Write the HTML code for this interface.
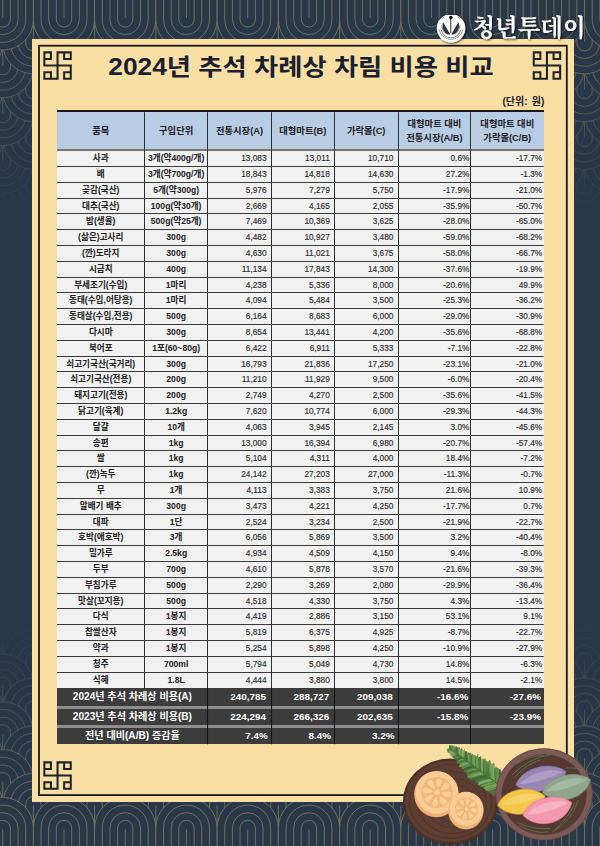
<!DOCTYPE html>
<html lang="ko"><head><meta charset="utf-8"><title>2024년 추석 차례상 차림 비용 비교</title>
<style>
html,body{margin:0;padding:0}
body{width:600px;height:846px;position:relative;overflow:hidden;background:#293849;font-family:"Liberation Sans","Noto Sans CJK KR",sans-serif}
svg{display:block}
#bg,#frame,#grid,#title,#logo,#food{position:absolute;left:0;top:0}
.pat{fill:none;stroke:#777059;stroke-width:.95}
#panel{position:absolute;left:31.7px;top:38.5px;width:542.3px;height:763.2px;background:#fadfa5}
.kt{font-size:0;line-height:0;margin:0}
#unit{position:absolute;right:55.6px;top:94px;height:15px;line-height:15px;font-size:10px;font-weight:700;color:#222;white-space:nowrap;word-spacing:1.5px}
#tbl{position:absolute;left:0;top:0;width:600px;height:846px;color:#222}
.topline{position:absolute;left:57.0px;width:486.7px;top:110.4px;height:1.8px;background:#17191c}
.hc{position:absolute;top:112.2px;height:36.6px;background:#b8cce4;text-align:center;font-weight:700;font-size:9.3px;white-space:nowrap;box-sizing:border-box;color:#1d2126}
.h1{line-height:36.6px;padding-top:.5px}
.h2{line-height:14.4px;padding-top:4.4px}
.hsep{position:absolute;left:57.0px;width:486.7px;top:148.8px;height:2.8px;background:#777}
.r{position:absolute;left:57.0px;width:486.7px;height:15.8px;line-height:15.8px;background:#f1f1f1;white-space:nowrap}
.sbg{position:absolute;left:57.0px;width:486.7px;background:#8e8e8e}
.s{position:absolute;left:57.0px;width:486.7px;background:#3c3c3c;color:#fff;white-space:nowrap}
.c{position:absolute;top:0;height:100%;display:block}
.r .c{top:.7px}
.b{text-align:center;font-weight:700;font-size:8.6px}
.n{text-align:right;font-size:8.3px;color:#2e2e2e;-webkit-text-stroke:.15px #2e2e2e}
.sb{text-align:center;font-weight:700;font-size:10.1px}
.sn{text-align:right;font-weight:700;font-size:9.9px}
</style></head>
<body>
<svg id="bg" width="600" height="846" viewBox="0 0 600 846"><defs><g id="su"><path d="M-30.62,-62 V0 A30.62,30.62 0 0 0 30.62,0 V-62Z" fill="#293849" stroke="none"/><path d="M-30.62,-62 V0 A30.62,30.62 0 0 0 30.62,0 V-62 M-22.96,-62 V0 A22.96,22.96 0 0 0 22.96,0 V-62 M-15.31,-62 V0 A15.31,15.31 0 0 0 15.31,0 V-62 M-7.66,-62 V0 A7.66,7.66 0 0 0 7.66,0 V-62 M0,-62 V-1.5"/></g><g id="sd"><path d="M-30.62,62 V0 A30.62,30.62 0 0 1 30.62,0 V62Z" fill="#293849" stroke="none"/><path d="M-30.62,62 V0 A30.62,30.62 0 0 1 30.62,0 V62 M-22.96,62 V0 A22.96,22.96 0 0 1 22.96,0 V62 M-15.31,62 V0 A15.31,15.31 0 0 1 15.31,0 V62 M-7.66,62 V0 A7.66,7.66 0 0 1 7.66,0 V62 M0,62 V1.5"/></g><linearGradient id="ft" x1="0" y1="0" x2="0" y2="1"><stop offset="0" stop-color="#fff"/><stop offset="0.14" stop-color="#fff"/><stop offset="1" stop-color="#000"/></linearGradient><linearGradient id="fb" x1="0" y1="1" x2="0" y2="0"><stop offset="0" stop-color="#fff"/><stop offset="0.16" stop-color="#fff"/><stop offset="1" stop-color="#000"/></linearGradient><mask id="mt" maskUnits="userSpaceOnUse" x="0" y="0" width="600" height="230"><rect width="600" height="215" fill="url(#ft)"/></mask><mask id="mb" maskUnits="userSpaceOnUse" x="0" y="620" width="600" height="226"><rect y="622" width="600" height="224" fill="url(#fb)"/></mask></defs><g class="pat" mask="url(#mt)"><use href="#su" x="-27.86" y="234.5"/><use href="#su" x="33.38" y="234.5"/><use href="#su" x="584.54" y="234.5"/><use href="#su" x="2.76" y="210.6"/><use href="#su" x="553.92" y="210.6"/><use href="#su" x="615.16" y="210.6"/><use href="#su" x="-27.86" y="186.7"/><use href="#su" x="33.38" y="186.7"/><use href="#su" x="584.54" y="186.7"/><use href="#su" x="2.76" y="162.8"/><use href="#su" x="553.92" y="162.8"/><use href="#su" x="615.16" y="162.8"/><use href="#su" x="-27.86" y="138.9"/><use href="#su" x="33.38" y="138.9"/><use href="#su" x="584.54" y="138.9"/><use href="#su" x="2.76" y="115"/><use href="#su" x="553.92" y="115"/><use href="#su" x="615.16" y="115"/><use href="#su" x="-27.86" y="91.1"/><use href="#su" x="33.38" y="91.1"/><use href="#su" x="94.62" y="91.1"/><use href="#su" x="155.86" y="91.1"/><use href="#su" x="217.1" y="91.1"/><use href="#su" x="278.34" y="91.1"/><use href="#su" x="339.58" y="91.1"/><use href="#su" x="400.82" y="91.1"/><use href="#su" x="462.06" y="91.1"/><use href="#su" x="523.3" y="91.1"/><use href="#su" x="584.54" y="91.1"/><use href="#su" x="2.76" y="67.2"/><use href="#su" x="64" y="67.2"/><use href="#su" x="125.24" y="67.2"/><use href="#su" x="186.48" y="67.2"/><use href="#su" x="247.72" y="67.2"/><use href="#su" x="308.96" y="67.2"/><use href="#su" x="370.2" y="67.2"/><use href="#su" x="431.44" y="67.2"/><use href="#su" x="492.68" y="67.2"/><use href="#su" x="553.92" y="67.2"/><use href="#su" x="615.16" y="67.2"/><use href="#su" x="-27.86" y="43.3"/><use href="#su" x="33.38" y="43.3"/><use href="#su" x="94.62" y="43.3"/><use href="#su" x="155.86" y="43.3"/><use href="#su" x="217.1" y="43.3"/><use href="#su" x="278.34" y="43.3"/><use href="#su" x="339.58" y="43.3"/><use href="#su" x="400.82" y="43.3"/><use href="#su" x="462.06" y="43.3"/><use href="#su" x="523.3" y="43.3"/><use href="#su" x="584.54" y="43.3"/><use href="#su" x="2.76" y="19.4"/><use href="#su" x="64" y="19.4"/><use href="#su" x="125.24" y="19.4"/><use href="#su" x="186.48" y="19.4"/><use href="#su" x="247.72" y="19.4"/><use href="#su" x="308.96" y="19.4"/><use href="#su" x="370.2" y="19.4"/><use href="#su" x="431.44" y="19.4"/><use href="#su" x="492.68" y="19.4"/><use href="#su" x="553.92" y="19.4"/><use href="#su" x="615.16" y="19.4"/></g><g class="pat" mask="url(#mb)"><use href="#sd" x="-27.86" y="612.9"/><use href="#sd" x="33.38" y="612.9"/><use href="#sd" x="584.54" y="612.9"/><use href="#sd" x="2.76" y="636.8"/><use href="#sd" x="553.92" y="636.8"/><use href="#sd" x="615.16" y="636.8"/><use href="#sd" x="-27.86" y="660.7"/><use href="#sd" x="33.38" y="660.7"/><use href="#sd" x="584.54" y="660.7"/><use href="#sd" x="2.76" y="684.6"/><use href="#sd" x="553.92" y="684.6"/><use href="#sd" x="615.16" y="684.6"/><use href="#sd" x="-27.86" y="708.5"/><use href="#sd" x="33.38" y="708.5"/><use href="#sd" x="584.54" y="708.5"/><use href="#sd" x="2.76" y="732.4"/><use href="#sd" x="553.92" y="732.4"/><use href="#sd" x="615.16" y="732.4"/><use href="#sd" x="-27.86" y="756.3"/><use href="#sd" x="33.38" y="756.3"/><use href="#sd" x="94.62" y="756.3"/><use href="#sd" x="155.86" y="756.3"/><use href="#sd" x="217.1" y="756.3"/><use href="#sd" x="278.34" y="756.3"/><use href="#sd" x="339.58" y="756.3"/><use href="#sd" x="400.82" y="756.3"/><use href="#sd" x="462.06" y="756.3"/><use href="#sd" x="523.3" y="756.3"/><use href="#sd" x="584.54" y="756.3"/><use href="#sd" x="2.76" y="780.2"/><use href="#sd" x="64" y="780.2"/><use href="#sd" x="125.24" y="780.2"/><use href="#sd" x="186.48" y="780.2"/><use href="#sd" x="247.72" y="780.2"/><use href="#sd" x="308.96" y="780.2"/><use href="#sd" x="370.2" y="780.2"/><use href="#sd" x="431.44" y="780.2"/><use href="#sd" x="492.68" y="780.2"/><use href="#sd" x="553.92" y="780.2"/><use href="#sd" x="615.16" y="780.2"/><use href="#sd" x="-27.86" y="804.1"/><use href="#sd" x="33.38" y="804.1"/><use href="#sd" x="94.62" y="804.1"/><use href="#sd" x="155.86" y="804.1"/><use href="#sd" x="217.1" y="804.1"/><use href="#sd" x="278.34" y="804.1"/><use href="#sd" x="339.58" y="804.1"/><use href="#sd" x="400.82" y="804.1"/><use href="#sd" x="462.06" y="804.1"/><use href="#sd" x="523.3" y="804.1"/><use href="#sd" x="584.54" y="804.1"/><use href="#sd" x="2.76" y="828"/><use href="#sd" x="64" y="828"/><use href="#sd" x="125.24" y="828"/><use href="#sd" x="186.48" y="828"/><use href="#sd" x="247.72" y="828"/><use href="#sd" x="308.96" y="828"/><use href="#sd" x="370.2" y="828"/><use href="#sd" x="431.44" y="828"/><use href="#sd" x="492.68" y="828"/><use href="#sd" x="553.92" y="828"/><use href="#sd" x="615.16" y="828"/></g></svg>
<div id="panel"></div>
<svg id="frame" width="600" height="846" viewBox="0 0 600 846" fill="none" stroke="#23282d"><rect x="39" y="45.7" width="527.8" height="749.4" stroke-width="1.8" stroke="#16191c"/><g stroke-width="2.05" stroke-linecap="square" stroke="#1e2328"><path transform="translate(43.4,51.4)" d="M14.15,14.15V0.95H27.35V7.55H20.75V0.95 M14.15,14.15H27.35V27.35H20.75V20.75H27.35 M14.15,14.15V27.35H0.95V20.75H7.55V27.35 M14.15,14.15H0.95V0.95H7.55V7.55H0.95"/><path transform="translate(532.8,51.4)" d="M14.15,14.15V0.95H27.35V7.55H20.75V0.95 M14.15,14.15H27.35V27.35H20.75V20.75H27.35 M14.15,14.15V27.35H0.95V20.75H7.55V27.35 M14.15,14.15H0.95V0.95H7.55V7.55H0.95"/><path transform="translate(43.4,761.4)" d="M14.15,14.15V0.95H27.35V7.55H20.75V0.95 M14.15,14.15H27.35V27.35H20.75V20.75H27.35 M14.15,14.15V27.35H0.95V20.75H7.55V27.35 M14.15,14.15H0.95V0.95H7.55V7.55H0.95"/></g></svg>
<h1 class="kt">2024년 추석 차례상 차림 비용 비교</h1>
<svg id="title" width="600" height="100" viewBox="0 0 600 100" fill="#19212e" role="img" aria-label="2024년 추석 차례상 차림 비용 비교"><text x="108.25" y="75.3" font-size="23" font-weight="700" fill="#19212e" textLength="385.5" lengthAdjust="spacingAndGlyphs" style="font-family:'Liberation Sans','Noto Sans CJK KR',sans-serif">2024년 추석 차례상 차림 비용 비교</text></svg>
<div id="unit">(단위: 원)</div>
<div id="tbl"><div class="topline"></div><div class="hc h1" style="left:57px;width:87.5px">품목</div><div class="hc h1" style="left:144.5px;width:63.3px">구입단위</div><div class="hc h1" style="left:207.8px;width:63.4px">전통시장(A)</div><div class="hc h1" style="left:271.2px;width:63.2px">대형마트(B)</div><div class="hc h1" style="left:334.4px;width:63.6px">가락몰(C)</div><div class="hc h2" style="left:398px;width:72.9px">대형마트 대비<br>전통시장(A/B)</div><div class="hc h2" style="left:470.9px;width:72.8px">대형마트 대비<br>가락몰(C/B)</div><div class="hsep"></div><div class="r" style="top:150.6px"><span class="c b" style="left:0px;width:87.5px">사과</span><span class="c b" style="left:87.5px;width:63.3px">3개(약400g/개)</span><span class="c n" style="left:150.8px;width:58.8px">13,083</span><span class="c n" style="left:214.2px;width:58.6px">13,011</span><span class="c n" style="left:277.4px;width:59px">10,710</span><span class="c n" style="left:341px;width:71.4px">0.6%</span><span class="c n" style="left:413.9px;width:71.3px">-17.7%</span></div><div class="r" style="top:166.4px"><span class="c b" style="left:0px;width:87.5px">배</span><span class="c b" style="left:87.5px;width:63.3px">3개(약700g/개)</span><span class="c n" style="left:150.8px;width:58.8px">18,843</span><span class="c n" style="left:214.2px;width:58.6px">14,818</span><span class="c n" style="left:277.4px;width:59px">14,630</span><span class="c n" style="left:341px;width:71.4px">27.2%</span><span class="c n" style="left:413.9px;width:71.3px">-1.3%</span></div><div class="r" style="top:182.2px"><span class="c b" style="left:0px;width:87.5px">곶감(국산)</span><span class="c b" style="left:87.5px;width:63.3px">5개(약300g)</span><span class="c n" style="left:150.8px;width:58.8px">5,976</span><span class="c n" style="left:214.2px;width:58.6px">7,279</span><span class="c n" style="left:277.4px;width:59px">5,750</span><span class="c n" style="left:341px;width:71.4px">-17.9%</span><span class="c n" style="left:413.9px;width:71.3px">-21.0%</span></div><div class="r" style="top:198px"><span class="c b" style="left:0px;width:87.5px">대추(국산)</span><span class="c b" style="left:87.5px;width:63.3px">100g(약30개)</span><span class="c n" style="left:150.8px;width:58.8px">2,669</span><span class="c n" style="left:214.2px;width:58.6px">4,165</span><span class="c n" style="left:277.4px;width:59px">2,055</span><span class="c n" style="left:341px;width:71.4px">-35.9%</span><span class="c n" style="left:413.9px;width:71.3px">-50.7%</span></div><div class="r" style="top:213.8px"><span class="c b" style="left:0px;width:87.5px">밤(생율)</span><span class="c b" style="left:87.5px;width:63.3px">500g(약25개)</span><span class="c n" style="left:150.8px;width:58.8px">7,469</span><span class="c n" style="left:214.2px;width:58.6px">10,369</span><span class="c n" style="left:277.4px;width:59px">3,625</span><span class="c n" style="left:341px;width:71.4px">-28.0%</span><span class="c n" style="left:413.9px;width:71.3px">-65.0%</span></div><div class="r" style="top:229.6px"><span class="c b" style="left:0px;width:87.5px">(삶은)고사리</span><span class="c b" style="left:87.5px;width:63.3px">300g</span><span class="c n" style="left:150.8px;width:58.8px">4,482</span><span class="c n" style="left:214.2px;width:58.6px">10,927</span><span class="c n" style="left:277.4px;width:59px">3,480</span><span class="c n" style="left:341px;width:71.4px">-59.0%</span><span class="c n" style="left:413.9px;width:71.3px">-68.2%</span></div><div class="r" style="top:245.4px"><span class="c b" style="left:0px;width:87.5px">(깐)도라지</span><span class="c b" style="left:87.5px;width:63.3px">300g</span><span class="c n" style="left:150.8px;width:58.8px">4,630</span><span class="c n" style="left:214.2px;width:58.6px">11,021</span><span class="c n" style="left:277.4px;width:59px">3,675</span><span class="c n" style="left:341px;width:71.4px">-58.0%</span><span class="c n" style="left:413.9px;width:71.3px">-66.7%</span></div><div class="r" style="top:261.2px"><span class="c b" style="left:0px;width:87.5px">시금치</span><span class="c b" style="left:87.5px;width:63.3px">400g</span><span class="c n" style="left:150.8px;width:58.8px">11,134</span><span class="c n" style="left:214.2px;width:58.6px">17,843</span><span class="c n" style="left:277.4px;width:59px">14,300</span><span class="c n" style="left:341px;width:71.4px">-37.6%</span><span class="c n" style="left:413.9px;width:71.3px">-19.9%</span></div><div class="r" style="top:277px"><span class="c b" style="left:0px;width:87.5px">부세조기(수입)</span><span class="c b" style="left:87.5px;width:63.3px">1마리</span><span class="c n" style="left:150.8px;width:58.8px">4,238</span><span class="c n" style="left:214.2px;width:58.6px">5,336</span><span class="c n" style="left:277.4px;width:59px">8,000</span><span class="c n" style="left:341px;width:71.4px">-20.6%</span><span class="c n" style="left:413.9px;width:71.3px">49.9%</span></div><div class="r" style="top:292.8px"><span class="c b" style="left:0px;width:87.5px">동태(수입,어탕용)</span><span class="c b" style="left:87.5px;width:63.3px">1마리</span><span class="c n" style="left:150.8px;width:58.8px">4,094</span><span class="c n" style="left:214.2px;width:58.6px">5,484</span><span class="c n" style="left:277.4px;width:59px">3,500</span><span class="c n" style="left:341px;width:71.4px">-25.3%</span><span class="c n" style="left:413.9px;width:71.3px">-36.2%</span></div><div class="r" style="top:308.6px"><span class="c b" style="left:0px;width:87.5px">동태살(수입,전용)</span><span class="c b" style="left:87.5px;width:63.3px">500g</span><span class="c n" style="left:150.8px;width:58.8px">6,164</span><span class="c n" style="left:214.2px;width:58.6px">8,683</span><span class="c n" style="left:277.4px;width:59px">6,000</span><span class="c n" style="left:341px;width:71.4px">-29.0%</span><span class="c n" style="left:413.9px;width:71.3px">-30.9%</span></div><div class="r" style="top:324.4px"><span class="c b" style="left:0px;width:87.5px">다시마</span><span class="c b" style="left:87.5px;width:63.3px">300g</span><span class="c n" style="left:150.8px;width:58.8px">8,654</span><span class="c n" style="left:214.2px;width:58.6px">13,441</span><span class="c n" style="left:277.4px;width:59px">4,200</span><span class="c n" style="left:341px;width:71.4px">-35.6%</span><span class="c n" style="left:413.9px;width:71.3px">-68.8%</span></div><div class="r" style="top:340.2px"><span class="c b" style="left:0px;width:87.5px">북어포</span><span class="c b" style="left:87.5px;width:63.3px">1포(60~80g)</span><span class="c n" style="left:150.8px;width:58.8px">6,422</span><span class="c n" style="left:214.2px;width:58.6px">6,911</span><span class="c n" style="left:277.4px;width:59px">5,333</span><span class="c n" style="left:341px;width:71.4px">-7.1%</span><span class="c n" style="left:413.9px;width:71.3px">-22.8%</span></div><div class="r" style="top:356px"><span class="c b" style="left:0px;width:87.5px">쇠고기국산(국거리)</span><span class="c b" style="left:87.5px;width:63.3px">300g</span><span class="c n" style="left:150.8px;width:58.8px">16,793</span><span class="c n" style="left:214.2px;width:58.6px">21,836</span><span class="c n" style="left:277.4px;width:59px">17,250</span><span class="c n" style="left:341px;width:71.4px">-23.1%</span><span class="c n" style="left:413.9px;width:71.3px">-21.0%</span></div><div class="r" style="top:371.8px"><span class="c b" style="left:0px;width:87.5px">쇠고기국산(전용)</span><span class="c b" style="left:87.5px;width:63.3px">200g</span><span class="c n" style="left:150.8px;width:58.8px">11,210</span><span class="c n" style="left:214.2px;width:58.6px">11,929</span><span class="c n" style="left:277.4px;width:59px">9,500</span><span class="c n" style="left:341px;width:71.4px">-6.0%</span><span class="c n" style="left:413.9px;width:71.3px">-20.4%</span></div><div class="r" style="top:387.6px"><span class="c b" style="left:0px;width:87.5px">돼지고기(전용)</span><span class="c b" style="left:87.5px;width:63.3px">200g</span><span class="c n" style="left:150.8px;width:58.8px">2,749</span><span class="c n" style="left:214.2px;width:58.6px">4,270</span><span class="c n" style="left:277.4px;width:59px">2,500</span><span class="c n" style="left:341px;width:71.4px">-35.6%</span><span class="c n" style="left:413.9px;width:71.3px">-41.5%</span></div><div class="r" style="top:403.4px"><span class="c b" style="left:0px;width:87.5px">닭고기(육계)</span><span class="c b" style="left:87.5px;width:63.3px">1.2kg</span><span class="c n" style="left:150.8px;width:58.8px">7,620</span><span class="c n" style="left:214.2px;width:58.6px">10,774</span><span class="c n" style="left:277.4px;width:59px">6,000</span><span class="c n" style="left:341px;width:71.4px">-29.3%</span><span class="c n" style="left:413.9px;width:71.3px">-44.3%</span></div><div class="r" style="top:419.2px"><span class="c b" style="left:0px;width:87.5px">달걀</span><span class="c b" style="left:87.5px;width:63.3px">10개</span><span class="c n" style="left:150.8px;width:58.8px">4,063</span><span class="c n" style="left:214.2px;width:58.6px">3,945</span><span class="c n" style="left:277.4px;width:59px">2,145</span><span class="c n" style="left:341px;width:71.4px">3.0%</span><span class="c n" style="left:413.9px;width:71.3px">-45.6%</span></div><div class="r" style="top:435px"><span class="c b" style="left:0px;width:87.5px">송편</span><span class="c b" style="left:87.5px;width:63.3px">1kg</span><span class="c n" style="left:150.8px;width:58.8px">13,000</span><span class="c n" style="left:214.2px;width:58.6px">16,394</span><span class="c n" style="left:277.4px;width:59px">6,980</span><span class="c n" style="left:341px;width:71.4px">-20.7%</span><span class="c n" style="left:413.9px;width:71.3px">-57.4%</span></div><div class="r" style="top:450.8px"><span class="c b" style="left:0px;width:87.5px">쌀</span><span class="c b" style="left:87.5px;width:63.3px">1kg</span><span class="c n" style="left:150.8px;width:58.8px">5,104</span><span class="c n" style="left:214.2px;width:58.6px">4,311</span><span class="c n" style="left:277.4px;width:59px">4,000</span><span class="c n" style="left:341px;width:71.4px">18.4%</span><span class="c n" style="left:413.9px;width:71.3px">-7.2%</span></div><div class="r" style="top:466.6px"><span class="c b" style="left:0px;width:87.5px">(깐)녹두</span><span class="c b" style="left:87.5px;width:63.3px">1kg</span><span class="c n" style="left:150.8px;width:58.8px">24,142</span><span class="c n" style="left:214.2px;width:58.6px">27,203</span><span class="c n" style="left:277.4px;width:59px">27,000</span><span class="c n" style="left:341px;width:71.4px">-11.3%</span><span class="c n" style="left:413.9px;width:71.3px">-0.7%</span></div><div class="r" style="top:482.4px"><span class="c b" style="left:0px;width:87.5px">무</span><span class="c b" style="left:87.5px;width:63.3px">1개</span><span class="c n" style="left:150.8px;width:58.8px">4,113</span><span class="c n" style="left:214.2px;width:58.6px">3,383</span><span class="c n" style="left:277.4px;width:59px">3,750</span><span class="c n" style="left:341px;width:71.4px">21.6%</span><span class="c n" style="left:413.9px;width:71.3px">10.9%</span></div><div class="r" style="top:498.2px"><span class="c b" style="left:0px;width:87.5px">알배기 배추</span><span class="c b" style="left:87.5px;width:63.3px">300g</span><span class="c n" style="left:150.8px;width:58.8px">3,473</span><span class="c n" style="left:214.2px;width:58.6px">4,221</span><span class="c n" style="left:277.4px;width:59px">4,250</span><span class="c n" style="left:341px;width:71.4px">-17.7%</span><span class="c n" style="left:413.9px;width:71.3px">0.7%</span></div><div class="r" style="top:514px"><span class="c b" style="left:0px;width:87.5px">대파</span><span class="c b" style="left:87.5px;width:63.3px">1단</span><span class="c n" style="left:150.8px;width:58.8px">2,524</span><span class="c n" style="left:214.2px;width:58.6px">3,234</span><span class="c n" style="left:277.4px;width:59px">2,500</span><span class="c n" style="left:341px;width:71.4px">-21.9%</span><span class="c n" style="left:413.9px;width:71.3px">-22.7%</span></div><div class="r" style="top:529.8px"><span class="c b" style="left:0px;width:87.5px">호박(애호박)</span><span class="c b" style="left:87.5px;width:63.3px">3개</span><span class="c n" style="left:150.8px;width:58.8px">6,056</span><span class="c n" style="left:214.2px;width:58.6px">5,869</span><span class="c n" style="left:277.4px;width:59px">3,500</span><span class="c n" style="left:341px;width:71.4px">3.2%</span><span class="c n" style="left:413.9px;width:71.3px">-40.4%</span></div><div class="r" style="top:545.6px"><span class="c b" style="left:0px;width:87.5px">밀가루</span><span class="c b" style="left:87.5px;width:63.3px">2.5kg</span><span class="c n" style="left:150.8px;width:58.8px">4,934</span><span class="c n" style="left:214.2px;width:58.6px">4,509</span><span class="c n" style="left:277.4px;width:59px">4,150</span><span class="c n" style="left:341px;width:71.4px">9.4%</span><span class="c n" style="left:413.9px;width:71.3px">-8.0%</span></div><div class="r" style="top:561.4px"><span class="c b" style="left:0px;width:87.5px">두부</span><span class="c b" style="left:87.5px;width:63.3px">700g</span><span class="c n" style="left:150.8px;width:58.8px">4,610</span><span class="c n" style="left:214.2px;width:58.6px">5,878</span><span class="c n" style="left:277.4px;width:59px">3,570</span><span class="c n" style="left:341px;width:71.4px">-21.6%</span><span class="c n" style="left:413.9px;width:71.3px">-39.3%</span></div><div class="r" style="top:577.2px"><span class="c b" style="left:0px;width:87.5px">부침가루</span><span class="c b" style="left:87.5px;width:63.3px">500g</span><span class="c n" style="left:150.8px;width:58.8px">2,290</span><span class="c n" style="left:214.2px;width:58.6px">3,269</span><span class="c n" style="left:277.4px;width:59px">2,080</span><span class="c n" style="left:341px;width:71.4px">-29.9%</span><span class="c n" style="left:413.9px;width:71.3px">-36.4%</span></div><div class="r" style="top:593px"><span class="c b" style="left:0px;width:87.5px">맛살(꼬지용)</span><span class="c b" style="left:87.5px;width:63.3px">500g</span><span class="c n" style="left:150.8px;width:58.8px">4,518</span><span class="c n" style="left:214.2px;width:58.6px">4,330</span><span class="c n" style="left:277.4px;width:59px">3,750</span><span class="c n" style="left:341px;width:71.4px">4.3%</span><span class="c n" style="left:413.9px;width:71.3px">-13.4%</span></div><div class="r" style="top:608.8px"><span class="c b" style="left:0px;width:87.5px">다식</span><span class="c b" style="left:87.5px;width:63.3px">1봉지</span><span class="c n" style="left:150.8px;width:58.8px">4,419</span><span class="c n" style="left:214.2px;width:58.6px">2,886</span><span class="c n" style="left:277.4px;width:59px">3,150</span><span class="c n" style="left:341px;width:71.4px">53.1%</span><span class="c n" style="left:413.9px;width:71.3px">9.1%</span></div><div class="r" style="top:624.6px"><span class="c b" style="left:0px;width:87.5px">찹쌀산자</span><span class="c b" style="left:87.5px;width:63.3px">1봉지</span><span class="c n" style="left:150.8px;width:58.8px">5,819</span><span class="c n" style="left:214.2px;width:58.6px">6,375</span><span class="c n" style="left:277.4px;width:59px">4,925</span><span class="c n" style="left:341px;width:71.4px">-8.7%</span><span class="c n" style="left:413.9px;width:71.3px">-22.7%</span></div><div class="r" style="top:640.4px"><span class="c b" style="left:0px;width:87.5px">약과</span><span class="c b" style="left:87.5px;width:63.3px">1봉지</span><span class="c n" style="left:150.8px;width:58.8px">5,254</span><span class="c n" style="left:214.2px;width:58.6px">5,898</span><span class="c n" style="left:277.4px;width:59px">4,250</span><span class="c n" style="left:341px;width:71.4px">-10.9%</span><span class="c n" style="left:413.9px;width:71.3px">-27.9%</span></div><div class="r" style="top:656.2px"><span class="c b" style="left:0px;width:87.5px">청주</span><span class="c b" style="left:87.5px;width:63.3px">700ml</span><span class="c n" style="left:150.8px;width:58.8px">5,794</span><span class="c n" style="left:214.2px;width:58.6px">5,049</span><span class="c n" style="left:277.4px;width:59px">4,730</span><span class="c n" style="left:341px;width:71.4px">14.8%</span><span class="c n" style="left:413.9px;width:71.3px">-6.3%</span></div><div class="r" style="top:672px"><span class="c b" style="left:0px;width:87.5px">식혜</span><span class="c b" style="left:87.5px;width:63.3px">1.8L</span><span class="c n" style="left:150.8px;width:58.8px">4,444</span><span class="c n" style="left:214.2px;width:58.6px">3,880</span><span class="c n" style="left:277.4px;width:59px">3,800</span><span class="c n" style="left:341px;width:71.4px">14.5%</span><span class="c n" style="left:413.9px;width:71.3px">-2.1%</span></div><div class="sbg" style="top:688px;height:56.3px"></div><div class="s" style="top:688px;height:17.9px;line-height:17.9px"><span class="c sb" style="left:0;width:150.8px">2024년 추석 차례상 비용(A)</span><span class="c sn" style="left:150.8px;width:58.2px">240,785</span><span class="c sn" style="left:214.2px;width:58px">288,727</span><span class="c sn" style="left:277.4px;width:58.4px">209,038</span><span class="c sn" style="left:341px;width:70.3px">-16.6%</span><span class="c sn" style="left:413.9px;width:70.2px">-27.6%</span></div><div class="s" style="top:708.8px;height:16.2px;line-height:16.2px"><span class="c sb" style="left:0;width:150.8px">2023년 추석 차례상 비용(B)</span><span class="c sn" style="left:150.8px;width:58.2px">224,294</span><span class="c sn" style="left:214.2px;width:58px">266,326</span><span class="c sn" style="left:277.4px;width:58.4px">202,635</span><span class="c sn" style="left:341px;width:70.3px">-15.8%</span><span class="c sn" style="left:413.9px;width:70.2px">-23.9%</span></div><div class="s" style="top:727.8px;height:16.5px;line-height:16.5px"><span class="c sb" style="left:0;width:150.8px">전년 대비(A/B) 증감율</span><span class="c sn" style="left:150.8px;width:60px">7.4%</span><span class="c sn" style="left:214.2px;width:59.8px">8.4%</span><span class="c sn" style="left:277.4px;width:60.2px">3.2%</span><span class="c sn" style="left:341px;width:70.3px"></span><span class="c sn" style="left:413.9px;width:70.2px"></span></div></div>
<svg id="grid" width="600" height="846" viewBox="0 0 600 846"><path d="M57,166.5H543.7M57,182.5H543.7M57,198.5H543.7M57,213.5H543.7M57,229.5H543.7M57,245.5H543.7M57,261.5H543.7M57,277.5H543.7M57,292.5H543.7M57,308.5H543.7M57,324.5H543.7M57,340.5H543.7M57,356.5H543.7M57,371.5H543.7M57,387.5H543.7M57,403.5H543.7M57,419.5H543.7M57,435.5H543.7M57,450.5H543.7M57,466.5H543.7M57,482.5H543.7M57,498.5H543.7M57,514.5H543.7M57,529.5H543.7M57,545.5H543.7M57,561.5H543.7M57,577.5H543.7M57,593.5H543.7M57,608.5H543.7M57,624.5H543.7M57,640.5H543.7M57,656.5H543.7M57,672.5H543.7" stroke="#3a3a3a" stroke-width="1" fill="none"/><path d="M144.5,112.2V688M207.5,112.2V688M271.5,112.2V688M334.5,112.2V688M398.5,112.2V688M470.5,112.2V688" stroke="#2d2f33" stroke-width="1" fill="none"/><path d="M207.5,688V744.3M271.5,688V744.3M334.5,688V744.3M398.5,688V744.3M470.5,688V744.3" stroke="#151515" stroke-width="1.1" fill="none"/></svg>
<svg id="food" width="600" height="846" viewBox="0 0 600 846" role="img" aria-label="약과와 송편"><ellipse cx="450.5" cy="801.5" rx="47.5" ry="43" fill="#4c3128"/><ellipse cx="450.5" cy="801.5" rx="45.3" ry="40.8" fill="#5c3e32"/><ellipse cx="450.5" cy="801.5" rx="40.9" ry="37" fill="none" stroke="#452b23" stroke-width="1.1" opacity="0.55"/><ellipse cx="452" cy="802.3" rx="34.2" ry="31" fill="none" stroke="#452b23" stroke-width="1.1" opacity="0.5"/><ellipse cx="453.5" cy="803.1" rx="27.5" ry="24.9" fill="none" stroke="#452b23" stroke-width="1.1" opacity="0.45"/><ellipse cx="455" cy="803.9" rx="20.9" ry="18.9" fill="none" stroke="#452b23" stroke-width="1.1" opacity="0.4"/><g stroke-linecap="round" fill="none"><polygon points="450.4,747.1 459.9,750.7 472.6,755.5 488.4,761.4 501.8,770.7 509.7,776.5 494.9,796.7 484.4,788.9 472.3,777.8 461.6,764.9 453.8,755.7 448.6,749.5" fill="#5d8a48" stroke="none" opacity=".55"/><path d="M449.9,748.6 Q449.1,746.4 449.9,745.4" stroke="#557f42" stroke-width="1.3"/><path d="M449.9,748.6 Q447.7,748.3 447.1,749.3" stroke="#83ad63" stroke-width="1.3"/><path d="M451.2,749.6 Q450.4,747.2 451.1,746" stroke="#3f6b36" stroke-width="1.6"/><path d="M451.2,749.6 Q448.6,749.5 447.7,750.7" stroke="#5f8f4a" stroke-width="1.9"/><path d="M452.5,750.5 Q451.8,747.9 452.6,746.4" stroke="#557f42" stroke-width="1.7"/><path d="M452.5,750.5 Q449.7,750.6 448.6,751.9" stroke="#5f8f4a" stroke-width="2"/><path d="M453.8,751.5 Q453.1,748.2 454,746.2" stroke="#6f9d55" stroke-width="1.6"/><path d="M453.8,751.5 Q450.8,751.5 449.4,752.7" stroke="#83ad63" stroke-width="1.9"/><path d="M455.1,752.5 Q454.4,749.2 455.2,747.1" stroke="#557f42" stroke-width="1.4"/><path d="M455.1,752.5 Q451.9,752.7 450.3,754.1" stroke="#83ad63" stroke-width="1.3"/><path d="M456.5,753.4 Q455.7,749.8 456.5,747.4" stroke="#3f6b36" stroke-width="1.8"/><path d="M456.5,753.4 Q452.8,753.6 450.8,755" stroke="#6f9d55" stroke-width="1.5"/><path d="M457.8,754.4 Q456.8,750.6 457.4,747.9" stroke="#4c7a3d" stroke-width="1.4"/><path d="M457.8,754.4 Q454.3,754.6 452.3,756.1" stroke="#6f9d55" stroke-width="1.8"/><path d="M459.1,755.4 Q458.3,751.1 459.1,747.9" stroke="#5f8f4a" stroke-width="1.7"/><path d="M459.1,755.4 Q455.5,755.7 453.5,757.2" stroke="#3f6b36" stroke-width="1.6"/><path d="M460.4,756.3 Q459.3,752.6 459.9,750.1" stroke="#83ad63" stroke-width="1.7"/><path d="M460.4,756.3 Q456.6,756.4 454.4,757.7" stroke="#557f42" stroke-width="1.5"/><path d="M461.7,757.3 Q460.8,752.7 461.5,749.2" stroke="#5f8f4a" stroke-width="1.9"/><path d="M461.7,757.3 Q457.6,757.5 455,758.8" stroke="#557f42" stroke-width="1.3"/><path d="M463,758.3 Q462,753.9 462.6,750.7" stroke="#83ad63" stroke-width="2"/><path d="M463,758.3 Q458.9,758.5 456.3,759.9" stroke="#3f6b36" stroke-width="1.9"/><path d="M464.3,759.2 Q463.5,754 464.3,749.9" stroke="#6f9d55" stroke-width="1.4"/><path d="M464.3,759.2 Q460.3,759.7 457.9,761.4" stroke="#6f9d55" stroke-width="1.4"/><path d="M465.6,760.2 Q464.9,755.3 465.7,751.6" stroke="#3f6b36" stroke-width="1.4"/><path d="M465.6,760.2 Q460.9,760.8 457.8,762.5" stroke="#4c7a3d" stroke-width="1.9"/><path d="M467,761.2 Q465.9,756.2 466.4,752.5" stroke="#3f6b36" stroke-width="2"/><path d="M467,761.2 Q462.2,761.6 459,763.2" stroke="#4c7a3d" stroke-width="1.4"/><path d="M468.3,762.1 Q467.5,757 468.4,753.1" stroke="#4c7a3d" stroke-width="1.3"/><path d="M468.3,762.1 Q463.5,762.5 460.3,764.1" stroke="#6f9d55" stroke-width="1.3"/><path d="M469.6,763.1 Q468.7,757.6 469.4,753.3" stroke="#83ad63" stroke-width="1.5"/><path d="M469.6,763.1 Q464,764.1 459.9,766.3" stroke="#83ad63" stroke-width="1.8"/><path d="M470.9,764.1 Q469.8,758.3 470.3,753.6" stroke="#557f42" stroke-width="1.9"/><path d="M470.9,764.1 Q465.6,764.8 461.8,766.8" stroke="#5f8f4a" stroke-width="1.6"/><path d="M472.2,765 Q471.3,759.4 472.1,754.9" stroke="#4c7a3d" stroke-width="1.6"/><path d="M472.2,765 Q466.5,766.1 462.4,768.4" stroke="#5f8f4a" stroke-width="1.3"/><path d="M473.5,766 Q472.8,760.3 473.7,755.7" stroke="#6f9d55" stroke-width="1.7"/><path d="M473.5,766 Q468.1,767 464.3,769.2" stroke="#3f6b36" stroke-width="1.4"/><path d="M474.8,767 Q474.1,760.7 474.9,755.6" stroke="#6f9d55" stroke-width="1.6"/><path d="M474.8,767 Q468.9,768.1 464.5,770.5" stroke="#3f6b36" stroke-width="1.6"/><path d="M476.1,767.9 Q475.3,761.7 476.1,756.7" stroke="#557f42" stroke-width="1.5"/><path d="M476.1,767.9 Q469.5,769.2 464.4,771.6" stroke="#4c7a3d" stroke-width="1.7"/><path d="M477.5,768.9 Q476.7,761.2 477.7,754.7" stroke="#6f9d55" stroke-width="1.4"/><path d="M477.5,768.9 Q471.7,769.7 467.5,771.7" stroke="#83ad63" stroke-width="1.5"/><path d="M478.8,769.9 Q477.7,763.4 478.3,758.1" stroke="#6f9d55" stroke-width="1.7"/><path d="M478.8,769.9 Q472.3,770.6 467.4,772.5" stroke="#4c7a3d" stroke-width="1.7"/><path d="M480.1,770.8 Q478.9,763.7 479.3,757.8" stroke="#4c7a3d" stroke-width="1.7"/><path d="M480.1,770.8 Q472.8,771.8 467.1,774" stroke="#4c7a3d" stroke-width="1.9"/><path d="M481.4,771.8 Q480.1,763.8 480.5,756.9" stroke="#4c7a3d" stroke-width="1.4"/><path d="M481.4,771.8 Q474,773.1 468.2,775.6" stroke="#5f8f4a" stroke-width="1.9"/><path d="M482.7,772.8 Q481.8,765.5 482.4,759.4" stroke="#83ad63" stroke-width="2"/><path d="M482.7,772.8 Q474.8,774.3 468.4,776.9" stroke="#6f9d55" stroke-width="2"/><path d="M484,773.7 Q483.2,766.2 483.9,759.9" stroke="#4c7a3d" stroke-width="1.6"/><path d="M484,773.7 Q476.7,775.2 470.9,777.8" stroke="#83ad63" stroke-width="1.9"/><path d="M485.3,774.7 Q484.4,766.3 485,759" stroke="#557f42" stroke-width="1.4"/><path d="M485.3,774.7 Q477.1,776.1 470.5,778.6" stroke="#557f42" stroke-width="1.8"/><path d="M486.6,775.7 Q485.7,768.2 486.3,761.8" stroke="#557f42" stroke-width="1.5"/><path d="M486.6,775.7 Q478.3,776.9 471.5,779.4" stroke="#3f6b36" stroke-width="1.6"/><path d="M488,776.6 Q486.8,769.3 487.2,763.2" stroke="#4c7a3d" stroke-width="1.4"/><path d="M488,776.6 Q481.2,778.1 476,780.7" stroke="#3f6b36" stroke-width="1.9"/><path d="M489.3,777.6 Q488.6,768.8 489.6,761.2" stroke="#3f6b36" stroke-width="1.8"/><path d="M489.3,777.6 Q481.7,779.1 475.8,781.7" stroke="#4c7a3d" stroke-width="1.3"/><path d="M490.6,778.6 Q489.3,770 489.6,762.6" stroke="#5f8f4a" stroke-width="1.7"/><path d="M490.6,778.6 Q483.1,779.5 477.3,781.6" stroke="#4c7a3d" stroke-width="1.9"/><path d="M491.9,779.6 Q491.2,771.9 492.1,765.4" stroke="#6f9d55" stroke-width="1.7"/><path d="M491.9,779.6 Q484.6,780.6 479,782.8" stroke="#83ad63" stroke-width="1.6"/><path d="M493.2,780.5 Q492.6,771.6 493.6,763.8" stroke="#6f9d55" stroke-width="1.9"/><path d="M493.2,780.5 Q485.1,781.8 478.7,784.3" stroke="#83ad63" stroke-width="1.6"/><path d="M494.5,781.5 Q493.2,773.4 493.4,766.4" stroke="#83ad63" stroke-width="1.4"/><path d="M494.5,781.5 Q486.4,783 479.9,785.6" stroke="#4c7a3d" stroke-width="1.7"/><path d="M495.8,782.5 Q494.6,775 495,768.7" stroke="#4c7a3d" stroke-width="1.6"/><path d="M495.8,782.5 Q488.2,783.6 482.2,785.9" stroke="#6f9d55" stroke-width="1.8"/><path d="M497.1,783.4 Q496.1,775.3 496.7,768.4" stroke="#5f8f4a" stroke-width="1.9"/><path d="M497.1,783.4 Q490.3,784.9 485,787.6" stroke="#5f8f4a" stroke-width="1.8"/><path d="M498.5,784.4 Q497.5,776.1 498.1,769" stroke="#5f8f4a" stroke-width="1.6"/><path d="M498.5,784.4 Q490.9,785.6 485,788" stroke="#83ad63" stroke-width="1.4"/><path d="M499.8,785.4 Q499,777.2 499.8,770.2" stroke="#3f6b36" stroke-width="1.7"/><path d="M499.8,785.4 Q492.3,786.9 486.4,789.6" stroke="#6f9d55" stroke-width="1.9"/><path d="M501.1,786.3 Q499.8,778.8 500.1,772.4" stroke="#3f6b36" stroke-width="1.4"/><path d="M501.1,786.3 Q493.8,787.9 488.1,790.7" stroke="#5f8f4a" stroke-width="1.8"/><path d="M449.5,748.3 L502,787" stroke="#4a7339" stroke-width="1.3"/></g><ellipse cx="436.4" cy="794.1" rx="22.2" ry="23.2" fill="#eeb074"/><circle cx="437" cy="792.5" r="21.3" fill="#f9cc95"/><circle cx="437" cy="792.5" r="15.6" fill="#f3b673"/><path transform="translate(437,792.5) rotate(10)" d="M0,-3.9 C1.6,-7 5.6,-14 0,-14.5 C-5.6,-14 -1.6,-7 0,-3.9Z" fill="#f9cf9b"/><path transform="translate(437,792.5) rotate(55)" d="M0,-3.9 C1.6,-7 5.6,-14 0,-14.5 C-5.6,-14 -1.6,-7 0,-3.9Z" fill="#f9cf9b"/><path transform="translate(437,792.5) rotate(100)" d="M0,-3.9 C1.6,-7 5.6,-14 0,-14.5 C-5.6,-14 -1.6,-7 0,-3.9Z" fill="#f9cf9b"/><path transform="translate(437,792.5) rotate(145)" d="M0,-3.9 C1.6,-7 5.6,-14 0,-14.5 C-5.6,-14 -1.6,-7 0,-3.9Z" fill="#f9cf9b"/><path transform="translate(437,792.5) rotate(190)" d="M0,-3.9 C1.6,-7 5.6,-14 0,-14.5 C-5.6,-14 -1.6,-7 0,-3.9Z" fill="#f9cf9b"/><path transform="translate(437,792.5) rotate(235)" d="M0,-3.9 C1.6,-7 5.6,-14 0,-14.5 C-5.6,-14 -1.6,-7 0,-3.9Z" fill="#f9cf9b"/><path transform="translate(437,792.5) rotate(280)" d="M0,-3.9 C1.6,-7 5.6,-14 0,-14.5 C-5.6,-14 -1.6,-7 0,-3.9Z" fill="#f9cf9b"/><path transform="translate(437,792.5) rotate(325)" d="M0,-3.9 C1.6,-7 5.6,-14 0,-14.5 C-5.6,-14 -1.6,-7 0,-3.9Z" fill="#f9cf9b"/><circle cx="437" cy="792.5" r="2.7" fill="#f9cf9b"/><ellipse cx="465.8" cy="810.6" rx="17.8" ry="18.8" fill="#eeb074"/><circle cx="466.4" cy="809" r="16.9" fill="#f9cc95"/><circle cx="466.4" cy="809" r="11.4" fill="#f3b673"/><path transform="translate(466.4,809) rotate(10)" d="M0,-2.9 C1.1,-5.1 4.1,-10.3 0,-10.6 C-4.1,-10.3 -1.1,-5.1 0,-2.9Z" fill="#f9cf9b"/><path transform="translate(466.4,809) rotate(55)" d="M0,-2.9 C1.1,-5.1 4.1,-10.3 0,-10.6 C-4.1,-10.3 -1.1,-5.1 0,-2.9Z" fill="#f9cf9b"/><path transform="translate(466.4,809) rotate(100)" d="M0,-2.9 C1.1,-5.1 4.1,-10.3 0,-10.6 C-4.1,-10.3 -1.1,-5.1 0,-2.9Z" fill="#f9cf9b"/><path transform="translate(466.4,809) rotate(145)" d="M0,-2.9 C1.1,-5.1 4.1,-10.3 0,-10.6 C-4.1,-10.3 -1.1,-5.1 0,-2.9Z" fill="#f9cf9b"/><path transform="translate(466.4,809) rotate(190)" d="M0,-2.9 C1.1,-5.1 4.1,-10.3 0,-10.6 C-4.1,-10.3 -1.1,-5.1 0,-2.9Z" fill="#f9cf9b"/><path transform="translate(466.4,809) rotate(235)" d="M0,-2.9 C1.1,-5.1 4.1,-10.3 0,-10.6 C-4.1,-10.3 -1.1,-5.1 0,-2.9Z" fill="#f9cf9b"/><path transform="translate(466.4,809) rotate(280)" d="M0,-2.9 C1.1,-5.1 4.1,-10.3 0,-10.6 C-4.1,-10.3 -1.1,-5.1 0,-2.9Z" fill="#f9cf9b"/><path transform="translate(466.4,809) rotate(325)" d="M0,-2.9 C1.1,-5.1 4.1,-10.3 0,-10.6 C-4.1,-10.3 -1.1,-5.1 0,-2.9Z" fill="#f9cf9b"/><circle cx="466.4" cy="809" r="1.9" fill="#f9cf9b"/><ellipse cx="544.1" cy="794.3" rx="48.6" ry="46.0" fill="#6a4a47"/><ellipse cx="544.1" cy="794.3" rx="47.7" ry="45.1" fill="#7d5a56"/><ellipse cx="544.1" cy="794.5999999999999" rx="42.6" ry="40.4" fill="#553932"/><g fill="none" stroke="#55774a" stroke-width=".9" stroke-linecap="round"><path d="M512,775 Q528,758 551,754.5"/><path d="M517.5,763.5 Q530,755.5 543.5,755.5"/><path d="M514,778 Q526,764 540,760"/><path d="M552.5,832 Q571,822 578,801"/><path d="M556,829 Q570,816 574.5,803"/><path d="M517.5,822.5 Q533,830 550,828.5"/><path d="M520,826 Q535,834 548,832"/><path d="M566,768 Q578,767 588,772"/></g><path d="M515.7,785.1 C521,768.8 549.4,759.7 566.1,771.4 C560.4,790.4 531,797.7 515.7,785.1Z" fill="#9a86b2" stroke="#826f9c" stroke-width=".7"/><path d="M519.7,784 C526.5,775 548.5,766.5 562.4,771.9 C551.5,777.5 531.7,784.2 519.7,784Z" fill="#b6a6c9" opacity=".75"/><path d="M542.3,792.5 C547.4,776.8 574.6,768.3 590.5,779.6 C585.5,799.7 557.4,806.5 542.3,792.5Z" fill="#8ea68b" stroke="#76906f" stroke-width=".7"/><path d="M546.2,791.5 C552.6,782.9 573.7,774.8 587,780 C576.6,785.6 557.7,792.1 546.2,791.5Z" fill="#abc0a7" opacity=".75"/><path d="M497.7,805.3 C503.5,789.5 530.2,783.1 545,796.1 C539,815.7 511.4,820.4 497.7,805.3Z" fill="#f4c64a" stroke="#dba930" stroke-width=".7"/><path d="M501.5,804.6 C508.2,796.3 529,789.7 541.6,796.3 C531.2,801 512.6,806.1 501.5,804.6Z" fill="#f9d873" opacity=".75"/><path d="M523,815.4 C528.1,799.2 555.6,790.7 571.7,802.6 C566.9,823.9 538.4,830.6 523,815.4Z" fill="#f399af" stroke="#dd7f98" stroke-width=".7"/><path d="M526.9,814.4 C533.4,805.6 554.7,797.4 568.2,803 C557.7,808.7 538.6,815.3 526.9,814.4Z" fill="#f8bccb" opacity=".75"/></svg>
<svg id="logo" width="600" height="60" viewBox="0 0 600 60" role="img" aria-label="청년투데이"><defs><filter id="ds" x="-10%" y="-20%" width="120%" height="150%"><feGaussianBlur in="SourceAlpha" stdDeviation="0.9"/><feOffset dx="0.8" dy="1.2"/><feComponentTransfer><feFuncA type="linear" slope="0.75"/></feComponentTransfer><feMerge><feMergeNode/><feMergeNode in="SourceGraphic"/></feMerge></filter></defs><g filter="url(#ds)"><path d="M445.6,15 H456.4 L459.5,16.9 A14.25,14.25 0 1 1 442.5,16.9 Z" fill="#fff"/></g><g><path d="M443.1,22.2 C444.6,24.6 447.6,30 450.4,34.4 C448.2,34.9 445.6,33.800 443.9,31.4 C442.7,29.6 442.3,27.4 442.7,25.6 C442.5,24.4 442.6,23.100 443.1,22.2Z" fill="#2a3441"/><path d="M440.9,25.2 C441.3,28.8 443.2,32.2 446.4,34.3 C444.2,31.8 442.9,28.800 442.6,25.5Z" fill="#8d939c"/><g transform="translate(901.6,0) scale(-1,1)"><path d="M443.1,22.2 C444.6,24.6 447.6,30 450.4,34.4 C448.2,34.9 445.6,33.800 443.9,31.4 C442.7,29.6 442.3,27.4 442.7,25.6 C442.5,24.4 442.6,23.100 443.1,22.2Z" fill="#2a3441"/><path d="M440.9,25.2 C441.3,28.8 443.2,32.2 446.4,34.3 C444.2,31.8 442.9,28.800 442.6,25.5Z" fill="#8d939c"/></g><path d="M444.2,16.6 L442.2,18.6 M457.4,16.6 L459.4,18.6" stroke="#5b6470" stroke-width=".7"/><circle cx="450.8" cy="17.5" r="1.75" fill="#07080a"/><path d="M450.8,18 V32.6" stroke="#14171b" stroke-width="0.9"/><path d="M441.2,29.8 A10,10 0 0 0 460.8,29.8" fill="none" stroke="#5a616b" stroke-width="0.7"/><path d="M439,29.4 A12.2,12.2 0 0 0 463,29.4" fill="none" stroke="#737983" stroke-width="0.65"/></g><g filter="url(#ds)" fill="#fff"><text x="472.5" y="36.35" font-size="23.5" font-weight="700" fill="#fff" textLength="113" lengthAdjust="spacingAndGlyphs" style="font-family:'Liberation Serif','Noto Serif CJK SC','Noto Sans CJK KR',serif">청년투데이</text></g></svg>
</body></html>
